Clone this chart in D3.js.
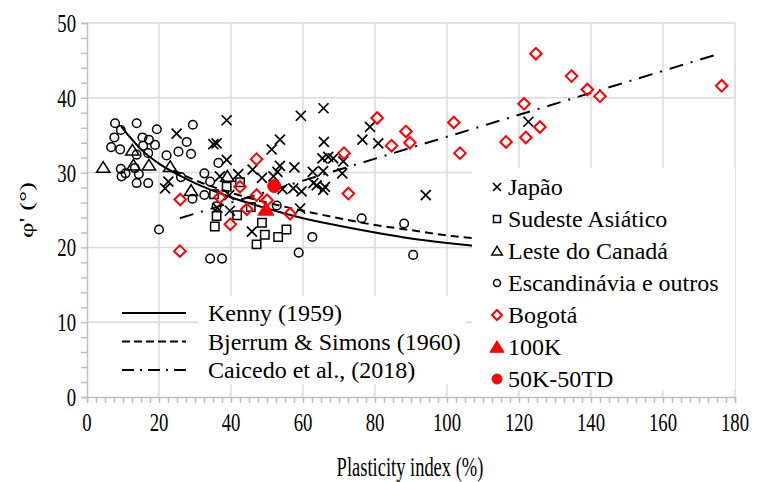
<!DOCTYPE html>
<html>
<head>
<meta charset="utf-8">
<script src="https://cdn.jsdelivr.net/npm/d3@7"></script>
<style>
  body { margin: 0; background: #fff; }
  text { font-family: "Liberation Serif", "Times New Roman", serif; fill: #000; }
</style>
</head>
<body>
<div id="chart"></div>
<script>
// pontos [PI, phi']
const japao = [[24.9,35.2],[21.7,27.9],[22.6,28.8],[36.0,33.9],[38.8,37.0],[38.8,31.7],[51.3,33.1],[53.6,34.4],
  [59.4,37.6],[65.7,38.6],[65.8,34.1],[76.5,34.4],[78.6,36.1],[80.9,33.9],[36.2,25.3],[39.7,24.9],[45.8,22.1],
  [36.9,29.5],[42.0,29.8],[46.0,30.4],[48.6,29.3],[51.8,29.5],[52.9,30.1],[53.6,30.9],[57.6,30.7],[62.7,30.1],
  [65.4,31.9],[67.0,32.1],[68.4,31.9],[71.2,31.5],[65.6,30.2],[70.9,29.9],[54.3,27.8],[57.3,27.9],[59.6,27.5],
  [62.9,28.6],[63.8,28.3],[65.6,27.7],[66.1,28.1],[59.2,25.2],[94.1,27.0],[122.6,36.8],[35.1,33.8],[39.5,27.0]];
const sudeste = [[35.3,27.1],[36.0,24.2],[35.5,22.8],[38.8,28.1],[42.5,28.7],[41.7,24.3],[45.5,25.4],[48.6,23.3],
  [49.4,21.7],[47.1,20.4],[53.1,21.4],[55.4,22.4]];
const canada = [[4.5,30.7],[12.6,33.0],[12.9,31.0],[17.2,31.0],[23.1,30.8],[28.9,27.6],[39.0,29.5]];
const escandinavia = [[7.8,36.6],[13.8,36.6],[9.4,35.7],[19.4,35.8],[7.6,34.7],[15.4,34.7],[17.2,34.4],[18.9,33.7],
  [6.7,33.4],[9.2,33.1],[15.6,33.6],[13.8,32.4],[17.0,32.6],[22.1,32.3],[25.4,32.8],[28.9,32.5],[27.7,34.1],
  [29.4,36.4],[9.4,30.5],[10.7,29.9],[9.6,29.5],[13.3,30.6],[14.4,29.8],[13.8,28.6],[17.0,28.6],[26.1,29.4],
  [32.6,29.9],[32.6,27.0],[29.3,26.5],[34.2,28.8],[20.0,22.4],[34.2,18.5],[37.5,18.5],[36.5,31.3],[36.0,25.5],
  [52.7,25.6],[58.8,19.3],[62.6,21.4],[76.3,23.9],[88.1,23.2],[90.6,19.0]];
const bogota = [[25.9,26.4],[25.8,19.5],[36.9,26.7],[39.8,23.1],[42.5,28.1],[44.4,25.1],[47.1,27.0],[47.1,31.8],
  [50.0,26.3],[56.4,24.5],[71.4,32.6],[72.6,27.2],[80.6,37.3],[84.6,33.6],[88.6,35.5],[89.7,34.0],[101.9,36.7],
  [103.6,32.6],[116.4,34.1],[121.4,39.2],[121.9,34.7],[124.7,45.9],[125.8,36.1],[134.6,42.9],[139.0,41.1],
  [142.5,40.2],[176.3,41.6]];
const k100 = [[49.7,25.1]];
const k50td = [[52.0,28.2]];

const kenny = [[9.5,36.2],[12,34.7],[15,33.1],[20,31.2],[25,29.8],[30,28.6],[40,26.7],[50,25.2],[60,23.9],
  [70,22.9],[80,22.0],[90,21.2],[100,20.6],[108,20.2]];
const bjerrum = [[24,30.3],[30,29.0],[40,27.3],[50,26.0],[60,24.9],[70,23.9],[80,23.0],[90,22.3],[100,21.6],[108,21.2]];
const caicedo = [[25.8,23.9],[175,45.8]];

const xTicks = [0,20,40,60,80,100,120,140,160,180];
const yTicks = [0,10,20,30,40,50];

const W = 758, H = 482;
const svg = d3.select("#chart").append("svg").attr("width", W).attr("height", H);

const x = d3.scaleLinear().domain([0,180]).range([87,735]);
const y = d3.scaleLinear().domain([0,50]).range([397,23]);

// grade
svg.append("g").selectAll("line").data(xTicks.slice(1)).enter().append("line")
  .attr("x1", d => x(d)).attr("x2", d => x(d)).attr("y1", y(0)).attr("y2", y(50))
  .attr("stroke", "#d9d9d9").attr("stroke-width", 1.5);
svg.append("g").selectAll("line").data(yTicks.slice(1)).enter().append("line")
  .attr("x1", x(0)).attr("x2", x(180)).attr("y1", d => y(d)).attr("y2", d => y(d))
  .attr("stroke", "#d9d9d9").attr("stroke-width", 1.5);

// eixos
const minorY = d3.range(0, 50.1, 2);
const minorX = d3.range(0, 180.1, 2.5);
const gy = svg.append("g").attr("transform", `translate(${x(0)},0)`)
  .call(d3.axisLeft(y).tickValues(minorY).tickSize(6).tickFormat(""));
const gx = svg.append("g").attr("transform", `translate(0,${y(0)})`)
  .call(d3.axisBottom(x).tickValues(minorX).tickSize(6).tickFormat(""));
[gy, gx].forEach(g => {
  g.selectAll("path,line").attr("stroke", "#bfbfbf").attr("stroke-width", 1.5);
});

const condensed = 0.72;
svg.append("g").selectAll("text").data(yTicks).enter().append("text")
  .attr("transform", d => `translate(76,${y(d) + 9}) scale(${condensed},1)`)
  .attr("text-anchor", "end").style("font-size", "26px").text(d => d);
svg.append("g").selectAll("text").data(xTicks).enter().append("text")
  .attr("transform", d => `translate(${x(d)},431) scale(${condensed},1)`)
  .attr("text-anchor", "middle").style("font-size", "26px").text(d => d);

svg.append("text").attr("transform", `translate(410,476) scale(0.66,1)`)
  .attr("text-anchor", "middle").style("font-size", "28px").text("Plasticity index (%)");
svg.append("text").attr("transform", `translate(33,210) rotate(-90) scale(1,${condensed})`)
  .attr("text-anchor", "middle").style("font-size", "27px").text("\u03C6' (\u00B0)");

// curvas
const line = d3.line().x(d => x(d[0])).y(d => y(d[1])).curve(d3.curveMonotoneX);
svg.append("path").datum(kenny).attr("d", line).attr("fill", "none").attr("stroke", "#000").attr("stroke-width", 2);
svg.append("path").datum(bjerrum).attr("d", line).attr("fill", "none").attr("stroke", "#000")
  .attr("stroke-width", 2).attr("stroke-dasharray", "8,5");
svg.append("path").datum(caicedo).attr("d", line).attr("fill", "none").attr("stroke", "#000")
  .attr("stroke-width", 2).attr("stroke-dasharray", "14,8,2,8");

// simbolos (size = raio em px)
const cross = { draw(c, r) { c.moveTo(-r,-r); c.lineTo(r,r); c.moveTo(-r,r); c.lineTo(r,-r); } };
const square = { draw(c, r) { c.rect(-r,-r,2*r,2*r); } };
const tri = { draw(c, r) { c.moveTo(0,-r); c.lineTo(r*1.15,r*0.85); c.lineTo(-r*1.15,r*0.85); c.closePath(); } };
const circ = { draw(c, r) { c.moveTo(r,0); c.arc(0,0,r,0,2*Math.PI); } };
const diam = { draw(c, r) { c.moveTo(0,-r); c.lineTo(r,0); c.lineTo(0,r); c.lineTo(-r,0); c.closePath(); } };

const series = [
  { name: "Japão", data: japao, type: cross, r: 5, lr: 4, stroke: "#000", fill: "none", sw: 1.7 },
  { name: "Sudeste Asiático", data: sudeste, type: square, r: 4.2, lr: 3.5, stroke: "#000", fill: "none", sw: 1.5 },
  { name: "Leste do Canadá", data: canada, type: tri, r: 5.8, lr: 4.6, stroke: "#000", fill: "none", sw: 1.5 },
  { name: "Escandinávia e outros", data: escandinavia, type: circ, r: 4.3, lr: 3.5, stroke: "#000", fill: "none", sw: 1.5 },
  { name: "Bogotá", data: bogota, type: diam, r: 5.8, lr: 5, stroke: "#ff0000", fill: "none", sw: 2 },
  { name: "100K", data: k100, type: tri, r: 7, lr: 6.2, stroke: "#ff0000", fill: "#ff0000", sw: 1 },
  { name: "50K-50TD", data: k50td, type: circ, r: 6.5, lr: 5, stroke: "#ff0000", fill: "#ff0000", sw: 1 }
];

series.forEach(s => {
  svg.append("g").selectAll("path").data(s.data).enter().append("path")
    .attr("transform", d => `translate(${x(d[0])},${y(d[1])})`)
    .attr("d", d3.symbol().type(s.type).size(s.r))
    .attr("fill", s.fill).attr("stroke", s.stroke).attr("stroke-width", s.sw);
});

// legenda direita
svg.append("rect").attr("x", 472).attr("y", 168).attr("width", 263).attr("height", 222).attr("fill", "#fff");
const leg = svg.append("g").selectAll("g").data(series).enter().append("g")
  .attr("transform", (d, i) => `translate(497,${187 + i * 32})`);
leg.append("path").attr("d", d => d3.symbol().type(d.type).size(d.lr)())
  .attr("fill", d => d.fill).attr("stroke", d => d.stroke).attr("stroke-width", d => d.sw);
leg.append("text").attr("x", 11).attr("y", 8).style("font-size", "24px").text(d => d.name);

// legenda das curvas
svg.append("rect").attr("x", 198).attr("y", 296).attr("width", 268).attr("height", 88).attr("fill", "#fff");
const curves = [
  { name: "Kenny (1959)", dash: null },
  { name: "Bjerrum & Simons (1960)", dash: "8,4" },
  { name: "Caicedo et al., (2018)", dash: "12,6,2,6" }
];
const cl = svg.append("g").selectAll("g").data(curves).enter().append("g")
  .attr("transform", (d, i) => `translate(0,${313 + i * 28.5})`);
cl.append("line").attr("x1", 122).attr("x2", 186).attr("y1", 0).attr("y2", 0)
  .attr("stroke", "#000").attr("stroke-width", 2).attr("stroke-dasharray", d => d.dash);
cl.append("text").attr("x", 208).attr("y", 8).style("font-size", "24px").text(d => d.name);
</script>
</body>
</html>
